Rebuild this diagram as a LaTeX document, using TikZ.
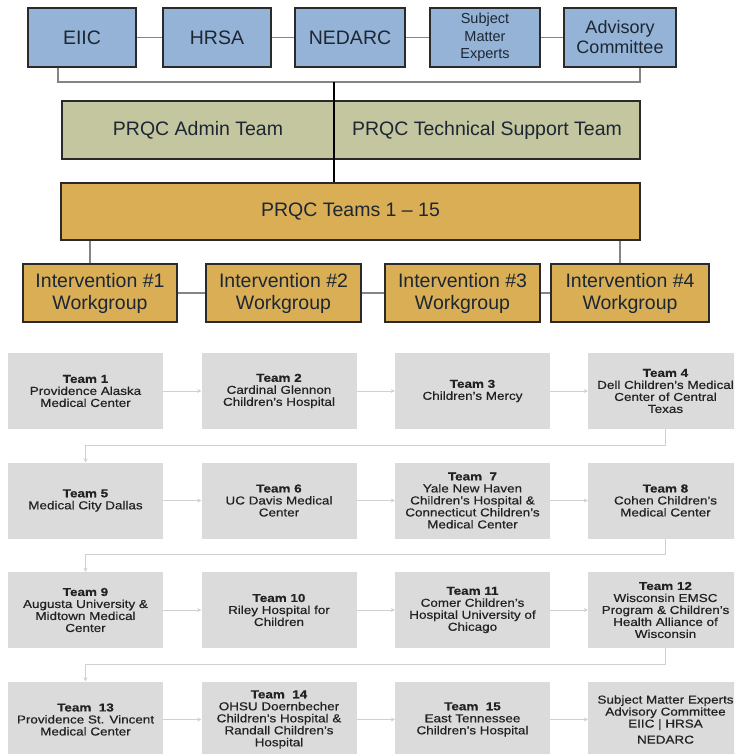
\documentclass[tikz,border=0pt]{standalone}
\usepackage{fontspec}
\setmainfont{Liberation Sans}
\newfontfamily\teamfont{Liberation Sans}[FakeStretch=1.17,FakeBold=0.5]
\usetikzlibrary{arrows.meta,calc}

\definecolor{bluefill}{HTML}{95B3D7}
\definecolor{olivefill}{HTML}{C4C6A0}
\definecolor{goldfill}{HTML}{DAAE55}
\definecolor{greyfill}{HTML}{DBDBDB}
\definecolor{boxline}{HTML}{2A2A2A}
\definecolor{linkgrey}{HTML}{858585}
\definecolor{arrowgrey}{HTML}{D0D0D0}
\definecolor{toptext}{HTML}{1C2733}
\definecolor{teamtext}{HTML}{222222}

\begin{document}
\begin{tikzpicture}[x=1pt,y=-1pt,
  base/.style={draw=boxline, line width=1.5pt, inner sep=0pt, align=center},
  topbox/.style={base, fill=bluefill, minimum height=59pt, text=toptext,
    font=\fontsize{19.5}{21}\selectfont},
  olivebox/.style={base, fill=olivefill, minimum height=58pt, text=toptext,
    font=\fontsize{19.5}{22}\selectfont},
  goldbox/.style={base, fill=goldfill, text=toptext,
    font=\fontsize{19.5}{22}\selectfont},
  teambox/.style={fill=greyfill, minimum width=155pt, minimum height=76pt,
    inner sep=0pt, align=center, text=teamtext,
    font=\teamfont\fontsize{11.5}{12}\selectfont},
  link/.style={draw=linkgrey, line width=1.3pt},
  flowarrow/.style={draw=arrowgrey, line width=0.8pt,
    -{Stealth[length=4pt,width=4pt]}}
]
\clip (0,0) rectangle (734,754);

% top row
\node[topbox, minimum width=108pt] (eiic) at (82,37.5) {EIIC};
\node[topbox, minimum width=108pt] (hrsa) at (217,37.5) {HRSA};
\node[topbox, minimum width=110pt] (nedarc) at (350,37.5) {NEDARC};
\node[topbox, minimum width=110pt, font=\fontsize{14.5}{17.5}\selectfont] (sme) at (485,37.5) {Subject\\Matter\\Experts};
\node[topbox, minimum width=112pt, font=\fontsize{18}{20}\selectfont] (adv) at (620,37.5) {Advisory\\Committee};
\draw[link] (eiic) -- (hrsa);
\draw[link] (hrsa) -- (nedarc);
\draw[link] (nedarc) -- (sme);
\draw[link] (sme) -- (adv);

\coordinate (bl) at (58,82);
\coordinate (br) at (640,82);
\coordinate (hub) at (334,82);
\draw[link] (eiic.south -| bl) -- (bl) -- (br) -- (adv.south -| br);

% admin / technical
\node[olivebox, minimum width=272pt] (admin) at (198,130) {PRQC Admin Team};
\node[olivebox, minimum width=306pt] (tech) at (487,130) {PRQC Technical Support Team};

% PRQC teams
\node[goldbox, minimum width=579pt, minimum height=57pt] (teams) at (350.5,211.5) {PRQC Teams 1 -- 15};
\draw[line width=2pt, black] (hub) -- (hub |- teams.north);

% interventions
\node[goldbox, minimum width=154pt, minimum height=58pt] (i1) at (100,293) {Intervention \#1\\Workgroup};
\node[goldbox, minimum width=155pt, minimum height=58pt] (i2) at (283.5,293) {Intervention \#2\\Workgroup};
\node[goldbox, minimum width=155pt, minimum height=58pt] (i3) at (462.5,293) {Intervention \#3\\Workgroup};
\node[goldbox, minimum width=158pt, minimum height=58pt] (i4) at (630,293) {Intervention \#4\\Workgroup};
\coordinate (lx) at (90,0);
\coordinate (rx) at (620,0);
\draw[link] (teams.south -| lx) -- (i1.north -| lx);
\draw[link] (teams.south -| rx) -- (i4.north -| rx);
\draw[link] (i1) -- (i2);
\draw[link] (i2) -- (i3);
\draw[link] (i3) -- (i4);

% team grid
\node[teambox] (t1) at (85.5,391) {\textbf{Team 1}\\Providence Alaska\\Medical Center};
\node[teambox] (t2) at (279,391) {\textbf{Team 2}\\Cardinal Glennon\\Children’s Hospital};
\node[teambox] (t3) at (472.5,391) {\textbf{Team 3}\\Children’s Mercy};
\node[teambox] (t4) at (665.5,391) {\textbf{Team 4}\\Dell Children’s Medical\\Center of Central\\Texas};

\node[teambox] (t5) at (85.5,500.5) {\textbf{Team 5}\\Medical City Dallas};
\node[teambox] (t6) at (279,500.5) {\textbf{Team 6}\\UC Davis Medical\\Center};
\node[teambox] (t7) at (472.5,500.5) {\textbf{Team\ \ 7}\\Yale New Haven\\Children’s Hospital \&\\Connecticut Children’s\\Medical Center};
\node[teambox] (t8) at (665.5,500.5) {\textbf{Team 8}\\Cohen Children’s\\Medical Center};

\node[teambox] (t9) at (85.5,610) {\textbf{Team 9}\\Augusta University \&\\Midtown Medical\\Center};
\node[teambox] (t10) at (279,610) {\textbf{Team 10}\\Riley Hospital for\\Children};
\node[teambox] (t11) at (472.5,610) {\textbf{Team 11}\\Comer Children’s\\Hospital University of\\Chicago};
\node[teambox] (t12) at (665.5,610) {\textbf{Team 12}\\Wisconsin EMSC\\Program \& Children’s\\Health Alliance of\\Wisconsin};

\node[teambox] (t13) at (85.5,719.5) {\textbf{Team\ \ 13}\\Providence St. Vincent\\Medical Center};
\node[teambox] (t14) at (279,719.5) {\textbf{Team\ \ 14}\\OHSU Doernbecher\\Children’s Hospital \&\\Randall Children’s\\Hospital};
\node[teambox] (t15) at (472.5,719.5) {\textbf{Team\ \ 15}\\East Tennessee\\Children’s Hospital};
\node[teambox] (t16) at (665.5,719.5) {Subject Matter Experts\\Advisory Committee\\EIIC | HRSA\\[4pt]NEDARC};

\draw[flowarrow] (t1) -- (t2);
\draw[flowarrow] (t2) -- (t3);
\draw[flowarrow] (t3) -- (t4);
\draw[flowarrow] (t4.south) -- ++(0,16) -| (t5.north);
\draw[flowarrow] (t5) -- (t6);
\draw[flowarrow] (t6) -- (t7);
\draw[flowarrow] (t7) -- (t8);
\draw[flowarrow] (t8.south) -- ++(0,16) -| (t9.north);
\draw[flowarrow] (t9) -- (t10);
\draw[flowarrow] (t10) -- (t11);
\draw[flowarrow] (t11) -- (t12);
\draw[flowarrow] (t12.south) -- ++(0,16) -| (t13.north);
\draw[flowarrow] (t13) -- (t14);
\draw[flowarrow] (t14) -- (t15);
\draw[flowarrow] (t15) -- (t16);
\end{tikzpicture}
\end{document}
